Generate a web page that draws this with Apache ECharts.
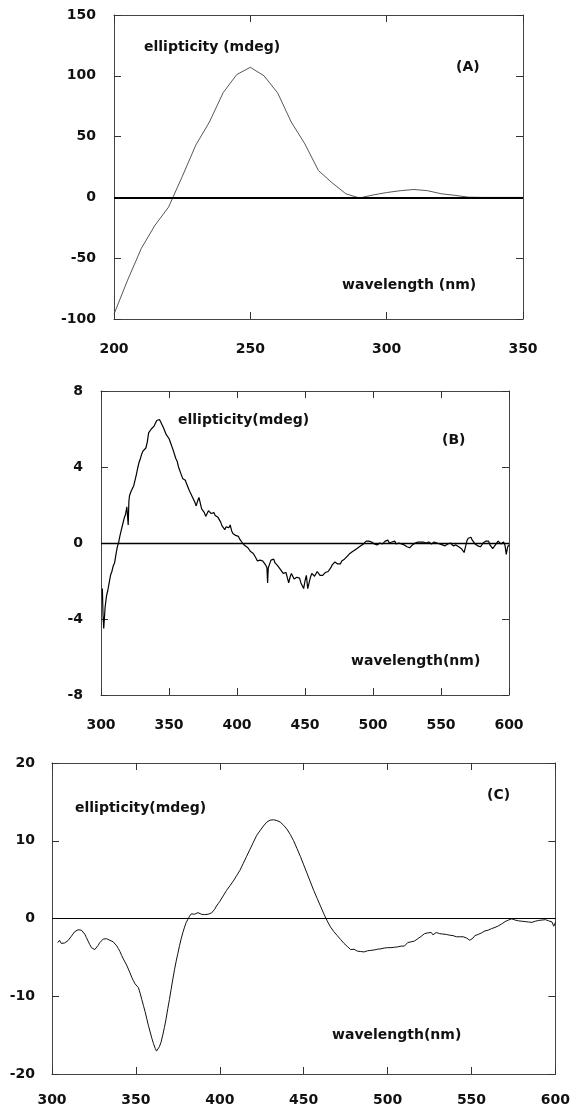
<!DOCTYPE html>
<html>
<head>
<meta charset="utf-8">
<script src="https://cdn.jsdelivr.net/npm/echarts@6/dist/echarts.min.js"></script>
<style>
html,body{margin:0;padding:0;background:#fff;}
#chart{width:573px;height:1107px;}
</style>
</head>
<body>
<div id="chart"></div>
<script>
// ---------- Panel A ----------
const wlA = [200,205,210,215,220,225,230,235,240,245,250,255,260,265,270,275,280,285,290,295,300,305,310,315,320,325,330,335,340,345,350];
const valA = [-96,-68,-42,-23,-8,17,43,62,86,101,107,100,86,62,44,22,12,3,-0.5,2,4,5.5,6.5,5.5,3,1.7,0.2,0,0,0,0];
const xTicksA = [200, 350, 50];   // min, max, interval
const yTicksA = [-100, 150, 50];

// ---------- Panel B ----------
const wlB = [301,301.5,302,303,304,305,306,307,308,309,310,311,312,313,314,315,316,317,318,319,319.5,320,320.5,
321,322,323,324,325,326,327,328,329,330,331,332,333,334,335,336,337,338,339,340,
341,342,343,344,345,346,347,348,349,350,351,352,353,354,355,356,357,358,359,360,
361,362,363,364,365,366,367,368,369,370,371,372,373,374,375,376,377,378,379,380,
381,382,383,384,385,386,387,388,389,390,391,392,393,394,395,396,397,398,399,400,
401,402,403,404,405,406,407,408,409,410,411,412,413,414,415,416,417,418,419,420,
421,422,422.5,423,424,425,426,427,428,429,430,431,432,433,434,435,436,437,438,439,440,
441,442,443,444,445,446,447,448,449,450,451,452,453,454,455,456,457,458,459,460,
461,462,463,464,465,466,467,468,469,470,471,472,473,474,475,476,477,478,479,480,
481,482,483,484,485,486,487,488,489,490,491,492,493,494,495,496,497,498,499,500,
501,502,503,504,505,506,507,508,509,510,511,512,513,514,515,516,517,518,519,520,
521,522,523,524,525,526,527,528,529,530,531,532,533,534,535,536,537,538,539,540,
541,542,543,544,545,546,547,548,549,550,551,552,553,554,555,556,557,558,559,560,
561,562,563,564,565,566,567,568,569,570,571,572,573,574,575,576,577,578,579,580,
581,582,583,584,585,586,587,588,589,590,591,592,593,594,595,596,597,598,599,600];
const valB = [-2.4,-3.8,-4.5,-3.4,-2.8,-2.5,-2.1,-1.7,-1.5,-1.2,-1.05,-0.6,-0.2,0.05,0.4,0.7,1.0,1.3,1.5,1.9,1.95,0.95,2.2,
2.5,2.7,2.85,3.0,3.3,3.6,3.95,4.25,4.45,4.7,4.85,4.9,5.0,5.3,5.8,5.85,6.0,5.9,6.15,6.3,
6.45,6.35,6.5,6.35,6.3,6.05,6.0,5.7,5.6,5.5,5.3,5.2,4.9,4.8,4.45,4.3,4.0,3.95,3.6,3.4,
3.5,3.3,3.1,3.0,2.75,2.6,2.45,2.3,2.15,1.95,2.2,2.4,2.1,1.8,1.75,1.6,1.4,1.5,1.7,1.75,
1.55,1.65,1.6,1.45,1.5,1.35,1.25,1.1,0.9,0.8,0.7,0.85,0.95,0.8,0.95,0.65,0.5,0.55,0.4,0.35,
0.35,0.2,0.1,0.0,-0.05,-0.15,-0.2,-0.25,-0.35,-0.45,-0.5,-0.55,-0.6,-0.8,-0.95,-0.85,-0.9,-0.8,-0.95,-1.05,
-1.15,-1.3,-2.1,-1.3,-1.2,-0.9,-0.8,-0.85,-1.05,-1.1,-1.2,-1.3,-1.4,-1.5,-1.6,-1.5,-1.55,-1.5,-2.1,-1.8,-1.6,
-1.75,-1.9,-2.0,-1.8,-1.7,-1.85,-2.1,-2.0,-2.4,-2.0,-1.7,-2.4,-2.1,-1.8,-1.6,-1.7,-1.75,-1.65,-1.5,-1.55,
-1.7,-1.6,-1.7,-1.6,-1.55,-1.6,-1.5,-1.4,-1.3,-1.15,-1.1,-1.0,-0.95,-1.1,-1.2,-1.1,-0.95,-0.9,-0.85,-0.75,
-0.7,-0.65,-0.55,-0.5,-0.45,-0.4,-0.35,-0.3,-0.25,-0.2,-0.15,-0.05,-0.05,0.05,0.1,0.05,0.1,0.0,0.05,0.0,
-0.05,0.05,-0.1,-0.1,0.0,0.05,-0.05,0.05,0.1,0.05,0.15,0.0,-0.05,0.05,0.0,0.1,-0.05,0.05,0.0,0.05,
-0.05,0.05,-0.1,-0.15,-0.2,-0.18,-0.25,-0.2,-0.1,-0.05,0.0,-0.05,0.05,0.15,0.05,-0.05,0.05,-0.05,0.0,0.1,
0.05,0.1,-0.05,-0.1,0.05,0.1,0.0,0.05,-0.05,0.0,-0.1,-0.05,-0.15,-0.18,-0.05,-0.1,0.0,-0.1,-0.15,-0.2,
-0.1,-0.18,-0.2,-0.25,-0.3,-0.4,-0.5,-0.2,0.1,0.25,0.35,0.3,0.15,0.05,-0.05,-0.1,-0.15,-0.25,-0.2,-0.1,
0.0,0.05,0.1,0.05,0.1,-0.1,-0.2,-0.3,-0.25,-0.1,0.0,0.1,0.05,-0.05,-0.15,0.05,-0.1,-0.6,-0.2,-0.1];
const xTicksB = [300, 600, 50];
const yTicksB = [-8, 8, 4];

// ---------- Panel C ----------
const wlC = [303.5,304.5,305.5,306.5,307.5,308.5,309.5,310.5,311.5,312.5,313.5,314.5,315.5,316.5,317.5,318.5,319.5,320.5,
321.5,322.5,323.5,324.5,325.5,326.5,327.5,328.5,329.5,330.5,331.5,332.5,333.5,334.5,335.5,336.5,337.5,338.5,339.5,340.5,
341.5,342.5,343.5,344.5,345.5,346.5,347.5,348.5,349.5,350.5,351.5,352.5,353.5,354.5,355.5,356.5,357.5,358.5,359.5,360.5,
361.5,362.3,363,364,365,366,367,368,369,370,371,372,373,374,375,376,377,378,379,380,
381,382,383,384,385,386,387,388,389,390,391,392,393,394,395,396,397,398,399,400,
402,404,406,408,410,412,414,416,418,420,422,424,426,428,430,432,434,436,438,440,
442,444,446,448,450,452,454,456,458,460,462,464,466,468,470,472,474,476,478,479,480,
481,482,483,484,485,486,487,488,489,490,491,492,493,494,495,496,497,498,499,500,
501,502,503,504,505,506,507,508,509,510,511,512,513,514,515,516,517,518,519,520,
521,522,523,524,525,526,527,528,529,530,531,532,533,534,535,536,537,538,539,540,
541,542,543,544,545,546,547,548,549,550,551,552,553,554,555,556,557,558,559,560,
561,562,563,564,565,566,567,568,569,570,571,572,573,574,575,576,577,578,579,580,
581,582,583,584,585,586,587,588,589,590,591,592,593,594,595,596,597,598,599,600];
const valC = [-3.1,-2.8,-3.2,-3.0,-3.15,-3.0,-2.85,-2.65,-2.3,-2.0,-1.7,-1.5,-1.45,-1.4,-1.5,-1.7,-2.0,-2.45,
-2.9,-3.35,-3.75,-3.95,-4.0,-3.8,-3.45,-3.1,-2.85,-2.65,-2.6,-2.6,-2.7,-2.8,-2.9,-3.0,-3.2,-3.5,-3.85,-4.25,
-4.75,-5.2,-5.6,-6.0,-6.5,-7.0,-7.55,-8.0,-8.4,-8.6,-8.9,-9.6,-10.4,-11.2,-12.0,-12.9,-13.8,-14.6,-15.4,-16.1,
-16.7,-17.05,-16.9,-16.5,-15.9,-15.0,-14.0,-12.9,-11.6,-10.4,-9.1,-7.8,-6.6,-5.5,-4.5,-3.5,-2.6,-1.8,-1.1,-0.5,
-0.1,0.3,0.6,0.7,0.55,0.6,0.75,0.65,0.55,0.55,0.5,0.55,0.55,0.6,0.7,0.9,1.2,1.6,1.9,2.2,
2.9,3.6,4.2,4.8,5.5,6.2,7.1,8.0,8.9,9.8,10.7,11.3,11.9,12.4,12.65,12.7,12.6,12.4,12.0,11.5,
10.8,10.0,9.0,8.0,6.9,5.8,4.7,3.6,2.6,1.6,0.6,-0.3,-1.1,-1.7,-2.2,-2.7,-3.2,-3.6,-4.0,-4.15,-3.95,
-4.1,-4.2,-4.15,-4.25,-4.2,-4.3,-4.2,-4.15,-4.2,-4.1,-4.15,-4.05,-4.1,-3.95,-4.0,-3.9,-3.95,-3.8,-3.85,-3.75,
-3.8,-3.75,-3.8,-3.7,-3.75,-3.65,-3.6,-3.55,-3.5,-3.55,-3.45,-3.1,-2.9,-3.0,-2.95,-2.9,-2.7,-2.6,-2.5,-2.3,
-2.05,-1.95,-1.8,-1.85,-1.7,-1.8,-2.1,-1.9,-1.8,-1.85,-1.95,-1.9,-2.0,-2.1,-2.05,-2.1,-2.15,-2.1,-2.2,-2.3,
-2.35,-2.3,-2.35,-2.4,-2.35,-2.45,-2.5,-2.75,-2.8,-2.65,-2.5,-2.2,-2.0,-2.05,-1.95,-1.85,-1.75,-1.6,-1.65,-1.5,
-1.45,-1.3,-1.25,-1.15,-1.05,-0.95,-0.75,-0.7,-0.5,-0.4,-0.35,-0.2,-0.15,-0.05,-0.1,-0.2,-0.25,-0.3,-0.25,-0.35,
-0.3,-0.4,-0.35,-0.45,-0.4,-0.5,-0.45,-0.35,-0.3,-0.25,-0.3,-0.2,-0.25,-0.15,-0.2,-0.3,-0.35,-0.45,-1.0,-0.5];
const xTicksC = [300, 600, 50];
const yTicksC = [-20, 20, 10];

// ---------- Annotations ----------
const labelsA = ['ellipticity (mdeg)', '(A)', 'wavelength (nm)'];
const labelsB = ['ellipticity(mdeg)', '(B)', 'wavelength(nm)'];
const labelsC = ['ellipticity(mdeg)', '(C)', 'wavelength(nm)'];

const FONT = 'bold 14px "DejaVu Sans"';
const zip = (xs, ys) => xs.map((x, i) => [x, ys[i]]);

const grids = [
  {left: 114, top: 15, width: 409, height: 304},
  {left: 101, top: 391, width: 408, height: 304},
  {left: 52, top: 763, width: 506, height: 311}
];
const xLabelMargin = [23, 23, 19];
const yLabelMargin = [18, 18, 17];
const xT = [xTicksA, xTicksB, xTicksC];
const yT = [yTicksA, yTicksB, yTicksC];

const frameLine = {show: true, onZero: false, lineStyle: {color: '#444', width: 1}};
const tick = {show: true, inside: true, length: 7, lineStyle: {color: '#333', width: 1}};
const lblStyle = {fontFamily: 'DejaVu Sans', fontWeight: 'bold', fontSize: 14, color: '#111'};

const xAxes = [], yAxes = [];
grids.forEach((g, i) => {
  xAxes.push({type: 'value', gridIndex: i, position: 'bottom', min: xT[i][0], max: xT[i][1], interval: xT[i][2],
    axisLine: frameLine, axisTick: tick, splitLine: {show: false},
    axisLabel: Object.assign({margin: xLabelMargin[i]}, lblStyle)});
  xAxes.push({type: 'value', gridIndex: i, position: 'top', min: xT[i][0], max: xT[i][1], interval: xT[i][2],
    axisLine: frameLine, axisTick: tick, splitLine: {show: false}, axisLabel: {show: false}});
  yAxes.push({type: 'value', gridIndex: i, position: 'left', min: yT[i][0], max: yT[i][1], interval: yT[i][2],
    axisLine: frameLine, axisTick: tick, splitLine: {show: false},
    axisLabel: Object.assign({margin: yLabelMargin[i]}, lblStyle)});
  yAxes.push({type: 'value', gridIndex: i, position: 'right', min: yT[i][0], max: yT[i][1], interval: yT[i][2],
    axisLine: frameLine, axisTick: tick, splitLine: {show: false}, axisLabel: {show: false}});
});

function zeroLine(w) {
  return {silent: true, symbol: ['none', 'none'], label: {show: false},
    lineStyle: {color: '#000', type: 'solid', width: w}, data: [{yAxis: 0}]};
}

const series = [
  {type: 'line', xAxisIndex: 0, yAxisIndex: 0, data: zip(wlA, valA), showSymbol: false,
   lineStyle: {color: '#444', width: 0.9}, markLine: zeroLine(1.8)},
  {type: 'line', xAxisIndex: 2, yAxisIndex: 2, data: zip(wlB, valB), showSymbol: false,
   lineStyle: {color: '#000', width: 1.2}, markLine: zeroLine(1.3)},
  {type: 'line', xAxisIndex: 4, yAxisIndex: 4, data: zip(wlC, valC), showSymbol: false,
   lineStyle: {color: '#111', width: 1}, markLine: zeroLine(1.1)}
];

function txt(text, x, y) {
  return {type: 'text', x: x, y: y, silent: true,
    style: {text: text, font: FONT, fill: '#111', verticalAlign: 'middle', align: 'left'}};
}
const graphics = [
  txt(labelsA[0], 144, 47), txt(labelsA[1], 456, 67), txt(labelsA[2], 342, 285),
  txt(labelsB[0], 178, 420), txt(labelsB[1], 442, 440), txt(labelsB[2], 351, 661),
  txt(labelsC[0], 75, 808), txt(labelsC[1], 487, 795), txt(labelsC[2], 332, 1035)
];

const chart = echarts.init(document.getElementById('chart'), null, {renderer: 'canvas'});
chart.setOption({
  animation: false,
  backgroundColor: '#fff',
  grid: grids,
  xAxis: xAxes,
  yAxis: yAxes,
  series: series,
  graphic: graphics
});
</script>
</body>
</html>
